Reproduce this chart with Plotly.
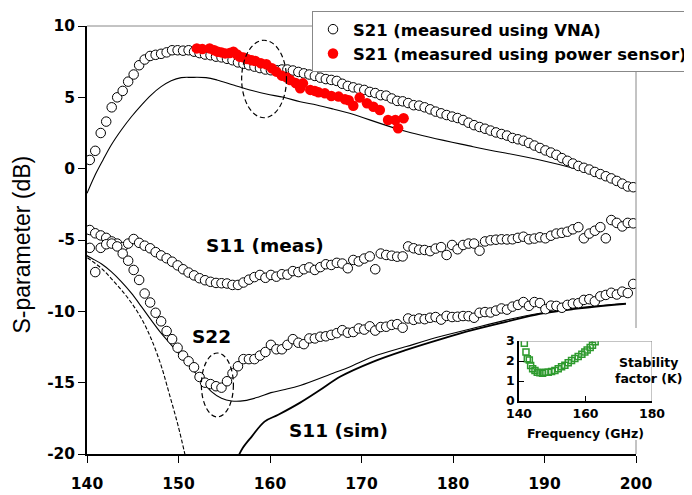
import plotly.graph_objects as go

# ---------------- data ----------------
freq_vna = [140.3, 140.9, 141.5, 142.1, 142.7, 143.3, 143.9, 144.5, 145.1, 145.7,
            146.3, 146.9, 147.5, 148.1, 148.7, 149.3, 149.9, 150.5, 151.1, 151.7,
            152.3, 152.9, 153.5, 154.1, 154.7, 155.3, 155.9, 156.5, 157.1, 157.7,
            158.3, 158.9, 159.5, 160.1, 160.7, 161.3, 161.9, 162.5, 163.1, 163.7,
            164.3, 164.9, 165.5, 166.1, 166.7, 167.3, 167.9, 168.5, 169.1, 169.7,
            170.3, 170.9, 171.5, 172.1, 172.7, 173.3, 173.9, 174.5, 175.1, 175.7,
            176.3, 176.9, 177.5, 178.1, 178.7, 179.3, 179.9, 180.5, 181.1, 181.7,
            182.3, 182.9, 183.5, 184.1, 184.7, 185.3, 185.9, 186.5, 187.1, 187.7,
            188.3, 188.9, 189.5, 190.1, 190.7, 191.3, 191.9, 192.5, 193.1, 193.7,
            194.3, 194.9, 195.5, 196.1, 196.7, 197.3, 197.9, 198.5, 199.1, 199.7]

s21_vna = [0.61, 1.25, 2.5, 3.3, 4.3, 5.0, 5.45, 6.1, 6.6, 7.25,
           7.65, 7.9, 7.98, 8.05, 8.15, 8.3, 8.3, 8.27, 8.3, 8.2,
           8.1, 8.0, 7.95, 7.85, 7.8, 7.7, 7.6, 7.45, 7.35, 7.25,
           7.15, 7.05, 6.95, 6.9, 6.9, 6.95, 6.95, 6.88, 6.78, 6.68,
           6.6, 6.5, 6.38, 6.28, 6.22, 6.15, 5.95, 5.8, 5.7, 5.6,
           5.52, 5.38, 5.3, 5.15, 5.12, 4.92, 4.75, 4.72, 4.6, 4.45,
           4.42, 4.3, 4.16, 4.0, 3.88, 3.76, 3.65, 3.55, 3.41, 3.22,
           3.05, 2.92, 2.8, 2.67, 2.54, 2.43, 2.32, 2.15, 2.06, 1.96,
           1.8, 1.62, 1.45, 1.28, 1.13, 0.97, 0.74, 0.55, 0.36, 0.19,
           0.06, -0.06, -0.23, -0.38, -0.53, -0.68, -0.86, -1.05, -1.25, -1.3]

s11_meas = [-4.3, -4.53, -4.68, -4.85, -5.1, -5.25, -5.5, -5.25, -4.93, -5.2,
            -5.4, -5.58, -5.85, -6.08, -6.28, -6.52, -6.78, -7.05, -7.28, -7.48,
            -7.68, -7.82, -7.93, -8.01, -8.03, -8.05, -8.15, -8.15, -7.98, -7.78,
            -7.6, -7.45, -7.65, -7.45, -7.57, -7.4, -7.43, -7.18, -7.25, -7.05,
            -6.92, -7.1, -6.9, -6.7, -6.75, -6.6, -6.65, -6.98, -6.4, -6.5,
            -6.3, -6.15, -7.05, -5.95, -6.05, -6.1, -6.17, -6.15, -5.45, -5.58,
            -5.68, -5.7, -5.78, -5.6, -5.5, -6.05, -5.35, -5.65, -5.35, -5.25,
            -5.25, -5.75, -5.1, -5.02, -4.98, -4.95, -4.96, -4.95, -4.85, -4.77,
            -4.95, -4.9, -4.81, -4.88, -4.7, -4.55, -4.5, -4.42, -4.25, -4.1,
            -4.88, -4.55, -4.35, -4.1, -4.88, -3.6, -3.8, -4.05, -3.8, -3.83]

s22_meas = [-5.55, -7.25, -5.55, -5.3, -5.25, -5.45, -5.95, -6.45, -7.1, -7.8,
            -8.75, -9.38, -10.1, -10.7, -11.38, -11.95, -12.55, -13.1, -13.5, -13.92,
            -14.6, -15.0, -15.1, -15.25, -15.35, -14.9, -14.35, -13.85, -13.35, -13.35,
            -13.35, -13.1, -12.85, -12.35, -12.66, -12.66, -12.35, -11.95, -12.2, -12.3,
            -11.9, -11.9, -11.78, -11.75, -11.65, -11.53, -11.32, -11.5, -11.45, -11.2,
            -11.28, -11.05, -11.35, -11.1, -11.08, -10.95, -10.9, -11.15, -10.5, -10.6,
            -10.5, -10.55, -10.45, -10.4, -10.58, -10.32, -10.4, -10.38, -10.33, -10.34,
            -10.45, -10.1, -10.05, -10.08, -9.95, -9.8, -9.88, -9.67, -9.55, -9.35,
            -9.62, -9.35, -9.42, -9.85, -9.6, -9.62, -9.75, -9.55, -9.45, -9.43,
            -9.2, -9.15, -9.3, -8.95, -8.85, -8.7, -8.82, -8.62, -8.72, -8.08]

freq_ps = [152.0, 152.6, 153.4, 153.9, 154.3, 154.7, 155.1, 155.6, 156.0, 156.4,
           156.7, 157.1, 157.5, 158.0, 158.4, 159.0, 159.6, 160.2, 160.7, 161.3,
           161.8, 162.2, 162.8, 163.3, 163.6, 164.4, 164.9, 165.3, 166.0, 166.7,
           167.5, 168.2, 168.6, 169.1, 169.8, 170.6, 171.3, 172.0, 172.9, 173.7,
           174.0, 174.6]
s21_ps = [8.43, 8.38, 8.43, 8.3, 8.2, 8.15, 8.08, 8.1, 8.2, 8.0,
          7.85, 7.8, 7.69, 7.6, 7.55, 7.39, 7.32, 7.04, 6.8, 6.52,
          6.4, 6.22, 6.0, 5.63, 5.98, 5.52, 5.45, 5.35, 5.28, 5.09,
          5.05, 4.86, 4.8, 4.41, 4.98, 4.58, 4.34, 4.11, 3.41, 3.41,
          2.83, 3.53]

freq_s21_sim = [140.0, 140.8, 141.75, 142.65, 143.75, 144.85, 145.95, 147.0, 148.1, 149.2,
                150.3, 151.4, 153.0, 154.2, 156.0, 157.8, 159.6, 161.5, 163.3, 165.1,
                166.9, 168.7, 174.9, 182.2, 189.5, 193.9, 197.0, 199.5]
s21_sim = [-1.73, -0.56, 0.61, 1.66, 2.71, 3.64, 4.46, 5.16, 5.75, 6.17,
           6.38, 6.4, 6.38, 6.22, 5.86, 5.52, 5.23, 5.0, 4.69, 4.46,
           4.18, 3.88, 2.6, 1.54, 0.61, -0.09, -0.7, -1.3]

freq_s22_sim = [139.5, 140.5, 141.6, 142.65, 143.75, 144.85, 145.95, 147.0, 148.1, 149.2,
                150.3, 151.4, 152.5, 153.6, 154.7, 155.8, 157.2, 158.7, 160.1, 161.5,
                163.3, 166.9, 168.7, 171.3, 174.9, 178.6, 182.2, 185.9, 189.5, 193.1,
                198.9]
s22_sim = [-5.93, -6.28, -6.68, -7.22, -7.92, -8.73, -9.67, -10.6, -11.53, -12.35,
           -13.17, -13.99, -14.8, -15.63, -16.09, -16.28, -16.26, -16.02, -15.7, -15.5,
           -15.2, -14.34, -13.9, -13.17, -12.47, -11.77, -11.18, -10.6, -10.13, -9.78,
           -9.43]

freq_s11_sim = [156.3, 157.0, 158.0, 159.4, 160.9, 163.3, 165.5, 167.7, 171.3, 174.9,
                178.6, 182.2, 185.9, 189.5, 193.1, 198.9]
s11_sim = [-20.5, -19.6, -18.78, -17.73, -17.25, -16.4, -15.5, -14.57, -13.52, -12.7,
           -11.96, -11.3, -10.72, -10.18, -9.85, -9.48]

freq_dash = [139.5, 140.5, 141.6, 142.65, 143.75, 144.85, 145.95, 147.0, 148.1, 149.0,
             149.95, 150.8]
dash_sim = [-6.0, -6.45, -7.0, -7.7, -8.5, -9.4, -10.5, -11.9, -13.8, -15.8,
            -18.0, -20.3]

freq_k = [141.6, 142.1, 142.5, 143.1, 143.5, 144.1, 144.8, 145.5, 146.3, 147.1,
          147.8, 148.8, 149.8, 150.8, 151.8, 152.8, 153.8, 154.8, 155.8, 156.8,
          157.8, 158.9, 159.8, 160.5, 161.4, 162.1, 162.9]
k_vals = [2.89, 2.45, 2.11, 2.05, 1.78, 1.61, 1.52, 1.44, 1.41, 1.39,
          1.44, 1.44, 1.47, 1.52, 1.61, 1.71, 1.79, 1.91, 2.03, 2.12,
          2.22, 2.34, 2.45, 2.55, 2.67, 2.79, 2.96]

x_ticks = [140, 150, 160, 170, 180, 190, 200]
y_ticks = [-20, -15, -10, -5, 0, 5, 10]
y_ticktext = ["-20", "-15", "-10", "-5", "0", "5", "10"]
inset_x_ticks = [140, 160, 180]
inset_y_ticks = [0, 1, 2, 3]

assert len(freq_vna) == len(s21_vna) == len(s11_meas) == len(s22_meas)
assert len(freq_ps) == len(s21_ps)
assert len(freq_s21_sim) == len(s21_sim)
assert len(freq_s22_sim) == len(s22_sim)
assert len(freq_s11_sim) == len(s11_sim)
assert len(freq_dash) == len(dash_sim)
assert len(freq_k) == len(k_vals)

# ---------------- figure ----------------
# The page body has an 8px margin, so the figure is 684x487 and offset by 8px.
BOLD = "DejaVu Sans"
fig = go.Figure()

line_kw = dict(mode="lines", showlegend=False, hoverinfo="skip")
fig.add_trace(go.Scatter(x=freq_s21_sim, y=s21_sim, line=dict(color="black", width=1.1, shape="spline"), **line_kw))
fig.add_trace(go.Scatter(x=freq_s22_sim, y=s22_sim, line=dict(color="black", width=1.1, shape="spline"), **line_kw))
fig.add_trace(go.Scatter(x=freq_s11_sim, y=s11_sim, line=dict(color="black", width=1.8, shape="spline"), **line_kw))
fig.add_trace(go.Scatter(x=freq_dash, y=dash_sim, line=dict(color="black", width=1.1, dash="4px,2px", shape="spline"), **line_kw))

circ = dict(symbol="circle", size=9.5, color="white", line=dict(color="black", width=1))
fig.add_trace(go.Scatter(x=freq_vna, y=s11_meas, mode="markers", marker=circ, showlegend=False))
fig.add_trace(go.Scatter(x=freq_vna, y=s22_meas, mode="markers", marker=circ, showlegend=False))
fig.add_trace(go.Scatter(x=freq_vna, y=s21_vna, mode="markers", marker=circ,
                         name="S21 (measured using VNA)"))
fig.add_trace(go.Scatter(x=freq_ps, y=s21_ps, mode="markers",
                         marker=dict(symbol="circle", size=10.5, color="#ff0000", line=dict(width=0)),
                         name="S21 (measured using power sensor)"))

# inset
fig.add_trace(go.Scatter(x=freq_k, y=k_vals, mode="markers", xaxis="x2", yaxis="y2", showlegend=False,
                         marker=dict(symbol="square-open", size=6, color="#2e9a2e", line=dict(width=1.5))))

MAIN_R = 0.915
fig.update_layout(
    width=684, height=487,
    margin=dict(l=79, r=5, t=18, b=41, autoexpand=False),
    paper_bgcolor="white", plot_bgcolor="rgba(0,0,0,0)",
    xaxis=dict(domain=[0, MAIN_R], range=[140, 200], tickvals=x_ticks,
               showline=True, linecolor="black", linewidth=1.5, ticks="outside", ticklen=7,
               tickwidth=1.2, tickcolor="black", showgrid=False, zeroline=False,
               ticklabelstandoff=8, automargin=False,
               tickfont=dict(family=BOLD, size=15.5, color="black", weight="bold")),
    yaxis=dict(domain=[0, 1], range=[-20, 10], tickvals=y_ticks, ticktext=y_ticktext,
               showline=True, linecolor="black", linewidth=1.5, ticks="outside", ticklen=7,
               tickwidth=1.2, tickcolor="black", showgrid=False, zeroline=False, automargin=False,
               tickfont=dict(family=BOLD, size=15.5, color="black", weight="bold")),
    xaxis2=dict(domain=[0.72, 0.9417], range=[140, 180], anchor="y2", tickvals=inset_x_ticks,
                showline=True, linecolor="black", linewidth=1.5, ticks="inside", ticklen=5,
                tickcolor="black", showgrid=False, zeroline=False, automargin=False,
                tickfont=dict(family=BOLD, size=12.5, color="black", weight="bold")),
    yaxis2=dict(domain=[0.1238, 0.264], range=[0, 3], anchor="x2", tickvals=inset_y_ticks,
                showline=True, linecolor="black", linewidth=1.5, ticks="inside", ticklen=5,
                tickcolor="black", showgrid=False, zeroline=False, automargin=False,
                tickfont=dict(family=BOLD, size=12.5, color="black", weight="bold")),
    legend=dict(x=0.375, y=1.035, xanchor="left", yanchor="top",
                bgcolor="white", bordercolor="#888888", borderwidth=1,
                font=dict(family=BOLD, size=16.4, color="black", weight="bold"),
                tracegroupgap=0, itemwidth=30),
    showlegend=True,
)

shapes = [
    # top and right border of main plot (gray)
    dict(type="line", xref="paper", yref="paper", x0=0, x1=MAIN_R, y0=1, y1=1,
         line=dict(color="#888888", width=1)),
    dict(type="line", xref="paper", yref="paper", x0=MAIN_R, x1=MAIN_R, y0=0.2944, y1=1,
         line=dict(color="#888888", width=1)),
    dict(type="line", xref="paper", yref="paper", x0=MAIN_R, x1=MAIN_R, y0=0, y1=0.0327,
         line=dict(color="#888888", width=1)),
    # inset frame (gray)
    dict(type="line", xref="x2", yref="y2", x0=140, x1=180, y0=3, y1=3,
         line=dict(color="#888888", width=1)),
    dict(type="line", xref="x2", yref="y2", x0=180, x1=180, y0=0, y1=3,
         line=dict(color="#888888", width=1)),
    # dashed ellipses
    dict(type="circle", xref="x", yref="y", x0=156.9, x1=161.8, y0=3.57, y1=9.0,
         line=dict(color="black", width=1.2, dash="5px,3px")),
    dict(type="circle", xref="x", yref="y", x0=152.5, x1=156.0, y0=-17.4, y1=-12.92,
         line=dict(color="black", width=1.2, dash="5px,3px")),
]
fig.update_layout(shapes=shapes)

ann_font = dict(family=BOLD, size=18.5, color="black")
center = dict(showarrow=False, xanchor="center", yanchor="middle")
annotations = [
    dict(text="<b>S21</b>", x=159.1, y=10.14, xref="x", yref="y", font=ann_font, **center),
    dict(text="<b>S11 (meas)</b>", x=159.45, y=-5.42, xref="x", yref="y", font=ann_font, **center),
    dict(text="<b>S22</b>", x=153.66, y=-11.79, xref="x", yref="y", font=ann_font, **center),
    dict(text="<b>S11 (sim)</b>", x=167.5, y=-18.38, xref="x", yref="y", font=ann_font, **center),
    dict(text="<b>Stability<br>factor (K)</b>", x=0.935, y=0.194, xref="paper", yref="paper",
         align="center", font=dict(family=BOLD, size=12.5, color="black"), **center),
    dict(text="<b>Frequency (GHz)</b>", x=0.83, y=0.049, xref="paper", yref="paper",
         font=dict(family=BOLD, size=12.5, color="black"), **center),
    dict(text="S-parameter (dB)", x=-0.108, y=0.49, xref="paper", yref="paper", textangle=-90,
         font=dict(family="Liberation Sans, Arial", size=23, color="black"), **center),
]
fig.update_layout(annotations=annotations)

fig.write_html("out.html")
